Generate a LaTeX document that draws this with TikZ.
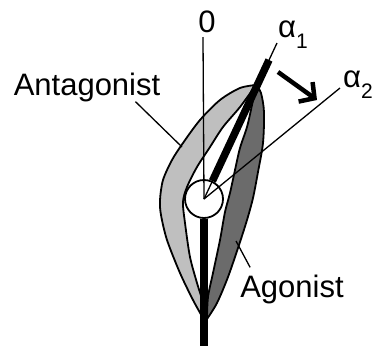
\documentclass[tikz,border=0pt]{standalone}
\usepackage{fontspec}
\setmainfont{Liberation Sans}
\usetikzlibrary{arrows.meta}
\newcommand{\angsub}[1]{α\raisebox{-11pt}{\fontsize{21}{24}\selectfont #1}}

\begin{document}
\begin{tikzpicture}[x=1pt,y=-1pt,line join=round,>={Straight Barb[length=11pt,width=24pt]}]
  \tikzstyle{muscle}=[draw=black,line width=1.8pt]
  \tikzstyle{bone}=[line width=7.5pt]
  \tikzstyle{axis}=[line width=1.3pt]
  \tikzstyle{lbl}=[inner sep=0pt,font=\fontsize{31}{36}\selectfont]
  \useasboundingbox (0,0) rectangle (381,346);

  \coordinate (ztop) at (203,37);
  \coordinate (a1tip) at (269,60);
  \coordinate (a1end) at (277,43);
  \coordinate (a2end) at (340,88);
  \coordinate (foot) at (204,346);
  \coordinate (arrs) at (278,72);
  \coordinate (arre) at (317,100);
  \coordinate (antagpt) at (182,147);
  \coordinate (agonpt) at (236,241);

  % antagonist (light band, left side)
  \filldraw[muscle,fill=black!25]
    plot[smooth] coordinates {(256,85) (240,88) (220,100) (200,120) (183,143)
      (172,160) (163,180) (160,200) (161,215) (167,240) (180,273) (193,300) (203,318)}
    -- plot[smooth] coordinates {(203,318) (202,300) (197,283) (190,257) (185,223)
      (183,202) (187,187) (197,167) (210,147) (223,127) (240,107) (256,85)} -- cycle;
  % agonist (dark band, right side)
  \filldraw[muscle,fill=black!58]
    plot[smooth] coordinates {(256,85) (261,93) (264,112) (263,143) (258,172)
      (253,198) (247,220) (239,245) (228,277) (217,303) (207,319)}
    -- plot[smooth] coordinates {(207,319) (208,297) (213,273) (220,240) (225,212)
      (230,193) (235,170) (240,148) (247,127) (252,105) (256,85)} -- cycle;

  \node (joint) [circle,draw,line width=1.8pt,fill=white,minimum size=38pt,inner sep=0pt] at (204,199) {};
  \draw[axis] (joint.center) -- (ztop);
  \draw[axis] (joint.center) -- (a1end);
  \draw[axis] (joint.center) -- (a2end);
  \draw[bone] (joint) -- (a1tip);
  \draw[bone] (joint) -- (foot);
  \draw[->,line width=4.5pt] (arrs) -- (arre);

  \node[lbl,anchor=base] (zero) at (207,32) {0};
  \node[lbl,anchor=base west] (a1) at (278,37) {\angsub{1}};
  \node[lbl,anchor=base west] (a2) at (343,87) {\angsub{2}};
  \node[lbl,anchor=base] (antag) at (87,95) {Antagonist};
  \node[lbl,anchor=base] (agon) at (292,297) {Agonist};
  \draw[axis] ([xshift=-25pt]antag.south east) -- (antagpt);
  \draw[axis] ([xshift=10pt,yshift=7pt]agon.north west) -- (agonpt);
\end{tikzpicture}
\end{document}
